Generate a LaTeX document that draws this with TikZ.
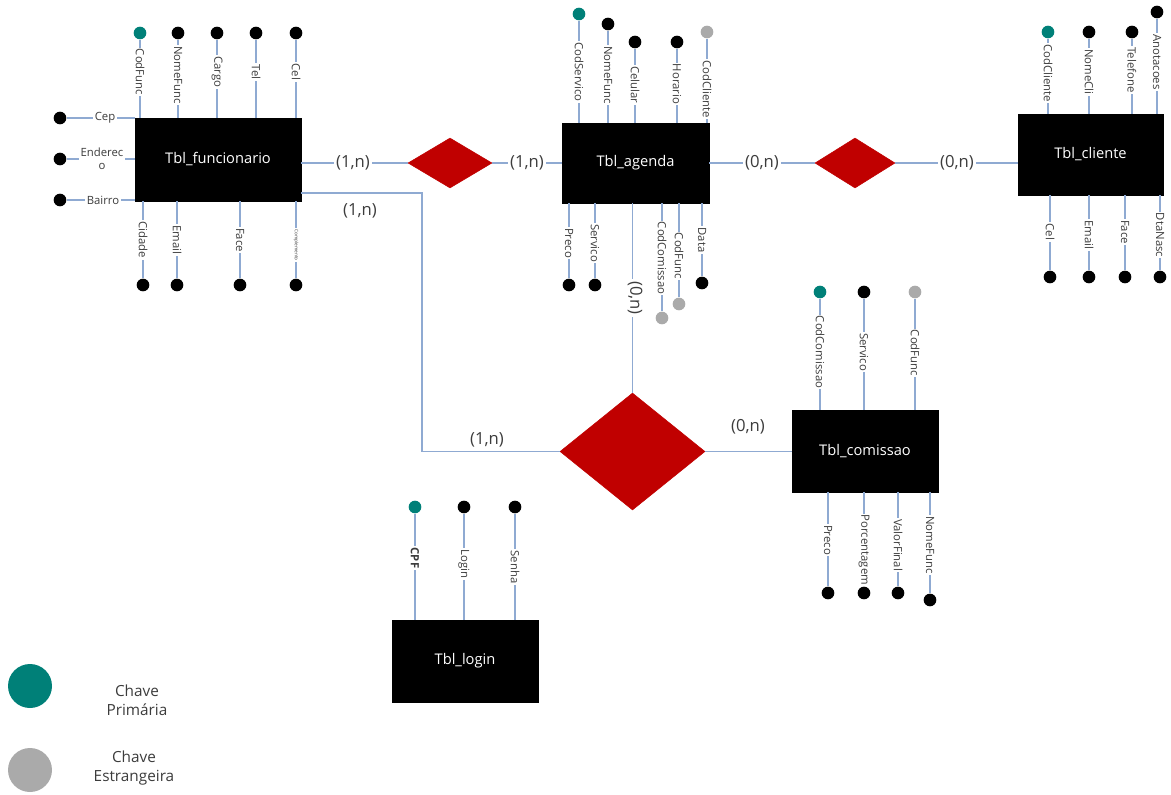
\documentclass[tikz,border=0pt]{standalone}
\usepackage{fontspec}
\setmainfont{Open Sans}
\usetikzlibrary{shapes.geometric}
\definecolor{lnblue}{RGB}{143,170,210}
\definecolor{pkteal}{RGB}{0,128,120}
\definecolor{fkgray}{RGB}{170,170,170}
\definecolor{relred}{RGB}{192,0,0}
\definecolor{txtgray}{RGB}{60,60,60}
\tikzset{
 entity/.style={fill=black, draw=black, text=white, font=\fontsize{11}{13}\selectfont, inner sep=0pt},
 rel/.style={diamond, fill=relred, draw=relred, inner sep=0pt},
 conn/.style={draw=lnblue, line width=0.9pt},
 dotat/.style={circle, fill=black, inner sep=0pt, minimum size=9.5pt},
 dotpk/.style={dotat, fill=pkteal},
 dotfk/.style={dotat, fill=fkgray},
 attrlbl/.style={rotate=-90, fill=white, inner sep=1pt, text=txtgray, font=\fontsize{8.5}{10}\selectfont},
 hlbl/.style={fill=white, inner sep=1pt, text=txtgray, font=\fontsize{8.5}{10}\selectfont, align=center},
 card/.style={fill=white, inner sep=1.5pt, text=txtgray, font=\fontsize{12.5}{14}\selectfont},
 legtxt/.style={text=txtgray, font=\fontsize{11.5}{14}\selectfont, align=center},
}
% #1 name, #2 x, #3 dot y, #4 label y, #5 label, #6 dot style, #7 box anchor
\newcommand{\attrv}[7]{%
 \node[#6] (#1) at (#2,#3) {};
 \draw[conn] (#1) -- (#1 |- #7);
 \node[attrlbl] (#1-l) at (#2,#4) {#5};
}
% horizontal: #1 name, #2 dot x, #3 y, #4 label x, #5 label, #6 box anchor
\newcommand{\attrh}[6]{%
 \node[dotat] (#1) at (#2,#3) {};
 \draw[conn] (#1) -- (#1 -| #6);
 \node[hlbl] (#1-l) at (#4,#3) {#5};
}
\begin{document}
\begin{tikzpicture}[x=0.75pt, y=-0.75pt]
\useasboundingbox (0,0) rectangle (1171,794);

% entities
\node[entity, minimum width=124.5pt, minimum height=62.25pt] (fun) at (218,159.5) {Tbl\_funcionario};
\node[entity, minimum width=110.25pt, minimum height=60pt] (ag) at (635.5,163) {Tbl\_agenda};
\node[entity, minimum width=108.75pt, minimum height=60.75pt] (cli) at (1090.5,154.5) {Tbl\_cliente};
\node[entity, minimum width=109.5pt, minimum height=61.5pt] (com) at (865,451) {Tbl\_comissao};
\node[entity, minimum width=109.5pt, minimum height=61.5pt] (log) at (465,661) {Tbl\_login};

% relationships
\node[rel, minimum width=63pt, minimum height=37.5pt] (d1) at (450,163) {};
\node[rel, minimum width=60pt, minimum height=37.5pt] (d2) at (855,163) {};
\node[rel, minimum width=108.75pt, minimum height=87.75pt] (big) at (632.5,451.5) {};

% connectors
\draw[conn] (fun.east |- d1) -- (d1.west);
\draw[conn] (d1.east) -- (ag.west |- d1);
\draw[conn] (ag.east |- d2) -- (d2.west);
\draw[conn] (d2.east) -- (cli.west |- d2);
\coordinate (bend) at (422,193);
\draw[conn] (fun.east |- bend) -- (bend) -- (bend |- big) -- (big.west);
\draw[conn] (big.north) -- (big.north |- ag.south);
\draw[conn] (big.east) -- (com.west |- big);

% cardinalities
\node[card] (c1) at (353,163) {(1,n)};
\node[card] (c2) at (527,163) {(1,n)};
\node[card] (c3) at (762,163) {(0,n)};
\node[card] (c4) at (957,163) {(0,n)};
\node[card, fill=none] (c5) at (360,211) {(1,n)};
\node[card, rotate=-90] (c6) at (635,298) {(0,n)};
\node[card, fill=none] (c7) at (487,440) {(1,n)};
\node[card, fill=none] (c8) at (748,427) {(0,n)};

% Tbl_funcionario attributes
\attrv{f1}{140}{33}{72}{CodFunc}{dotpk}{fun.north}
\attrv{f2}{178}{33}{75}{NomeFunc}{dotat}{fun.north}
\attrv{f3}{217}{33}{72}{Cargo}{dotat}{fun.north}
\attrv{f4}{256}{33}{72}{Tel}{dotat}{fun.north}
\attrv{f5}{296}{33}{72}{Cel}{dotat}{fun.north}
\attrv{f6}{143}{285}{240}{Cidade}{dotat}{fun.south}
\attrv{f7}{177}{285}{240}{Email}{dotat}{fun.south}
\attrv{f8}{240}{285}{240}{Face}{dotat}{fun.south}
\node[dotat] (f9) at (296,285) {};
\draw[conn] (f9) -- (f9 |- fun.south);
\node[attrlbl, font=\fontsize{3.5}{4}\selectfont] (f9-l) at (296,245) {Complemento};
\attrh{f10}{60}{118}{105}{Cep}{fun.west}
\attrh{f11}{60}{159}{102}{Enderec\\o}{fun.west}
\attrh{f12}{60}{200}{103}{Bairro}{fun.west}

% Tbl_agenda attributes
\attrv{a1}{579}{14}{72}{CodServico}{dotpk}{ag.north}
\attrv{a2}{608}{24}{75}{NomeFunc}{dotat}{ag.north}
\attrv{a3}{635}{42}{85}{Celular}{dotat}{ag.north}
\attrv{a4}{677}{42}{84}{Horario}{dotat}{ag.north}
\attrv{a5}{707}{32}{89}{CodCliente}{dotfk}{ag.north}
\attrv{a6}{569}{285}{243}{Preco}{dotat}{ag.south}
\attrv{a7}{595}{285}{243}{Servico}{dotat}{ag.south}
\attrv{a8}{662}{318}{258}{CodComissao}{dotfk}{ag.south}
\attrv{a9}{679}{304}{256}{CodFunc}{dotfk}{ag.south}
\attrv{a10}{702}{283}{240}{Data}{dotat}{ag.south}

% Tbl_cliente attributes
\attrv{k1}{1048}{32}{73}{CodCliente}{dotpk}{cli.north}
\attrv{k2}{1089}{32}{72}{NomeCli}{dotat}{cli.north}
\attrv{k3}{1132}{32}{70}{Telefone}{dotat}{cli.north}
\attrv{k4}{1157}{12}{62}{Anotacoes}{dotat}{cli.north}
\attrv{k5}{1050}{277}{232}{Cel}{dotat}{cli.south}
\attrv{k6}{1089}{277}{235}{Email}{dotat}{cli.south}
\attrv{k7}{1125}{277}{232}{Face}{dotat}{cli.south}
\attrv{k8}{1160}{277}{235}{DtaNasc}{dotat}{cli.south}

% Tbl_comissao attributes
\attrv{m1}{820}{292}{352}{CodComissao}{dotpk}{com.north}
\attrv{m2}{864}{292}{352}{Servico}{dotat}{com.north}
\attrv{m3}{915}{292}{353}{CodFunc}{dotfk}{com.north}
\attrv{m4}{828}{593}{540}{Preco}{dotat}{com.south}
\attrv{m5}{864}{593}{550}{Porcentagem}{dotat}{com.south}
\attrv{m6}{898}{593}{545}{ValorFinal}{dotat}{com.south}
\attrv{m7}{930}{600}{545}{NomeFunc}{dotat}{com.south}

% Tbl_login attributes
\attrv{l1}{415}{507}{558}{\textbf{CPF}}{dotpk}{log.north}
\attrv{l2}{464}{507}{564}{Login}{dotat}{log.north}
\attrv{l3}{515}{507}{567}{Senha}{dotat}{log.north}

% legend
\node[circle, fill=pkteal, minimum size=33pt, inner sep=0pt] (lpk) at (30,686) {};
\node[legtxt] (lpkt) at (137,700) {Chave\\Primária};
\node[circle, fill=fkgray, minimum size=33pt, inner sep=0pt] (lfk) at (30,770) {};
\node[legtxt] (lfkt) at (134,768) {Chave\\Estrangeira};
\end{tikzpicture}
\end{document}
